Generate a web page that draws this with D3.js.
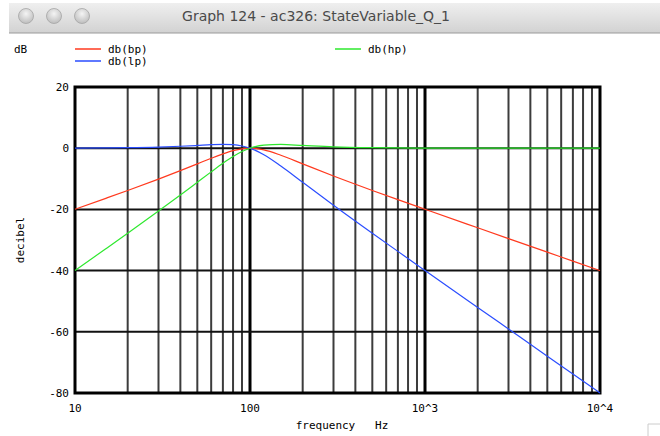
<!DOCTYPE html>
<html>
<head>
<meta charset="utf-8">
<script src="https://cdn.jsdelivr.net/npm/d3@7"></script>
<style>
  body { margin: 0; background: #fff; }
  svg text { font-family: "DejaVu Sans Mono", monospace; font-size: 11px; fill: #000; }
</style>
</head>
<body>
<svg id="chart" width="660" height="436"></svg>
<script>
// data (frequency in Hz, magnitude in dB)
const freqs = [10, 15, 20, 30, 40, 50, 60, 70, 80, 90, 100, 120, 150, 200, 300, 500, 700, 1000, 2000, 3000, 5000, 7000, 10000];
const dbBp = [-19.96, -16.38, -13.81, -10.09, -7.33, -5.12, -3.3, -1.85, -0.8, -0.19, 0, -0.55, -2.29, -5.12, -9.09, -13.81, -16.82, -19.96, -26.01, -29.54, -33.98, -36.9, -40];
const dbLp = [0.04, 0.1, 0.17, 0.37, 0.63, 0.9, 1.14, 1.25, 1.14, 0.73, 0, -2.13, -5.81, -11.14, -18.63, -27.79, -33.72, -39.96, -52.03, -59.08, -67.96, -73.8, -80];
const dbHp = [-39.96, -32.86, -27.79, -20.55, -15.29, -11.14, -7.74, -4.95, -2.74, -1.1, 0, 1.03, 1.23, 0.9, 0.45, 0.17, 0.08, 0.04, 0.01, 0, 0, 0, 0];

const yTicks = [20, 0, -20, -40, -60, -80];
const xTicks = [10, 100, 1000, 10000];
const xTickLabels = ["10", "100", "10^3", "10^4"];

const series = [
  { name: "db(bp)", values: dbBp, color: "#ff3a1f" },
  { name: "db(lp)", values: dbLp, color: "#2a4dff" },
  { name: "db(hp)", values: dbHp, color: "#2ee82e" }
];

const svg = d3.select("#chart");

// window title bar
const defs = svg.append("defs");
const bar = defs.append("linearGradient").attr("id", "bar").attr("x1", 0).attr("y1", 0).attr("x2", 0).attr("y2", 1);
bar.append("stop").attr("offset", "0%").attr("stop-color", "#efefef");
bar.append("stop").attr("offset", "100%").attr("stop-color", "#d2d2d2");
const knob = defs.append("radialGradient").attr("id", "knob").attr("cx", "50%").attr("cy", "35%").attr("r", "65%");
knob.append("stop").attr("offset", "0%").attr("stop-color", "#f4f4f4");
knob.append("stop").attr("offset", "100%").attr("stop-color", "#bdbdbd");

svg.append("rect").attr("x", 9).attr("y", 3).attr("width", 651).attr("height", 30).attr("fill", "url(#bar)");
svg.append("line").attr("x1", 9).attr("x2", 660).attr("y1", 33).attr("y2", 33).attr("stroke", "#9a9a9a");
[26, 54, 82].forEach(cx => {
  svg.append("circle").attr("cx", cx).attr("cy", 16).attr("r", 7.5)
    .attr("fill", "url(#knob)").attr("stroke", "#a5a5a5").attr("stroke-width", 0.8);
});
svg.append("text").attr("x", 316).attr("y", 21).attr("text-anchor", "middle")
  .style("font-family", "'DejaVu Sans', sans-serif").style("font-size", "14px").style("fill", "#4a4a4a")
  .text("Graph 124 - ac326: StateVariable_Q_1");

// plot area
const pLeft = 75, pRight = 600, pTop = 87, pBottom = 393;
const x = d3.scaleLog().domain([10, 10000]).range([pLeft, pRight]);
const y = d3.scaleLinear().domain([-80, 20]).range([pBottom, pTop]);

const grid = svg.append("g");
x.ticks().filter(d => d > 10 && d < 10000).forEach(d => {
  const decade = xTicks.includes(d);
  grid.append("line").attr("x1", x(d)).attr("x2", x(d)).attr("y1", pTop).attr("y2", pBottom)
    .attr("stroke", decade ? "#000" : "#3c3c3c").attr("stroke-width", decade ? 3 : 2);
});
yTicks.filter(d => d > -80 && d < 20).forEach(d => {
  grid.append("line").attr("x1", pLeft).attr("x2", pRight).attr("y1", y(d)).attr("y2", y(d))
    .attr("stroke", "#111").attr("stroke-width", 2);
});
svg.append("rect").attr("x", pLeft).attr("y", pTop).attr("width", pRight - pLeft).attr("height", pBottom - pTop)
  .attr("fill", "none").attr("stroke", "#000").attr("stroke-width", 3);

// tick labels
svg.append("g").selectAll("text").data(yTicks).join("text")
  .attr("x", pLeft - 6).attr("y", d => y(d) + 4).attr("text-anchor", "end").text(d => d);
svg.append("g").selectAll("text").data(xTicks).join("text")
  .attr("x", d => x(d)).attr("y", 412).attr("text-anchor", "middle").text((d, i) => xTickLabels[i]);

svg.append("text").attr("x", 342).attr("y", 429).attr("text-anchor", "middle")
  .attr("xml:space", "preserve").text("frequency   Hz");
svg.append("text").attr("transform", "translate(24,240) rotate(-90)").attr("text-anchor", "middle").text("decibel");

// curves
const line = d3.line().x((d, i) => x(freqs[i])).y(d => y(d)).curve(d3.curveMonotoneX);
svg.append("g").selectAll("path").data(series).join("path")
  .attr("d", d => line(d.values)).attr("fill", "none")
  .attr("stroke", d => d.color).attr("stroke-width", 1.2);

// legend
svg.append("text").attr("x", 14).attr("y", 53).text("dB");
const legendPos = [{ x: 75, y: 49 }, { x: 75, y: 61 }, { x: 335, y: 49 }];
const legend = svg.append("g").selectAll("g").data(series).join("g")
  .attr("transform", (d, i) => `translate(${legendPos[i].x},${legendPos[i].y})`);
legend.append("line").attr("x1", 0).attr("x2", 26).attr("stroke", d => d.color).attr("stroke-width", 1.5);
legend.append("text").attr("x", 33).attr("y", 4).text(d => d.name);

// resize grip
svg.append("path").attr("d", "M648 436 L648 424 L660 424").attr("fill", "none").attr("stroke", "#ccc");
</script>
</body>
</html>
